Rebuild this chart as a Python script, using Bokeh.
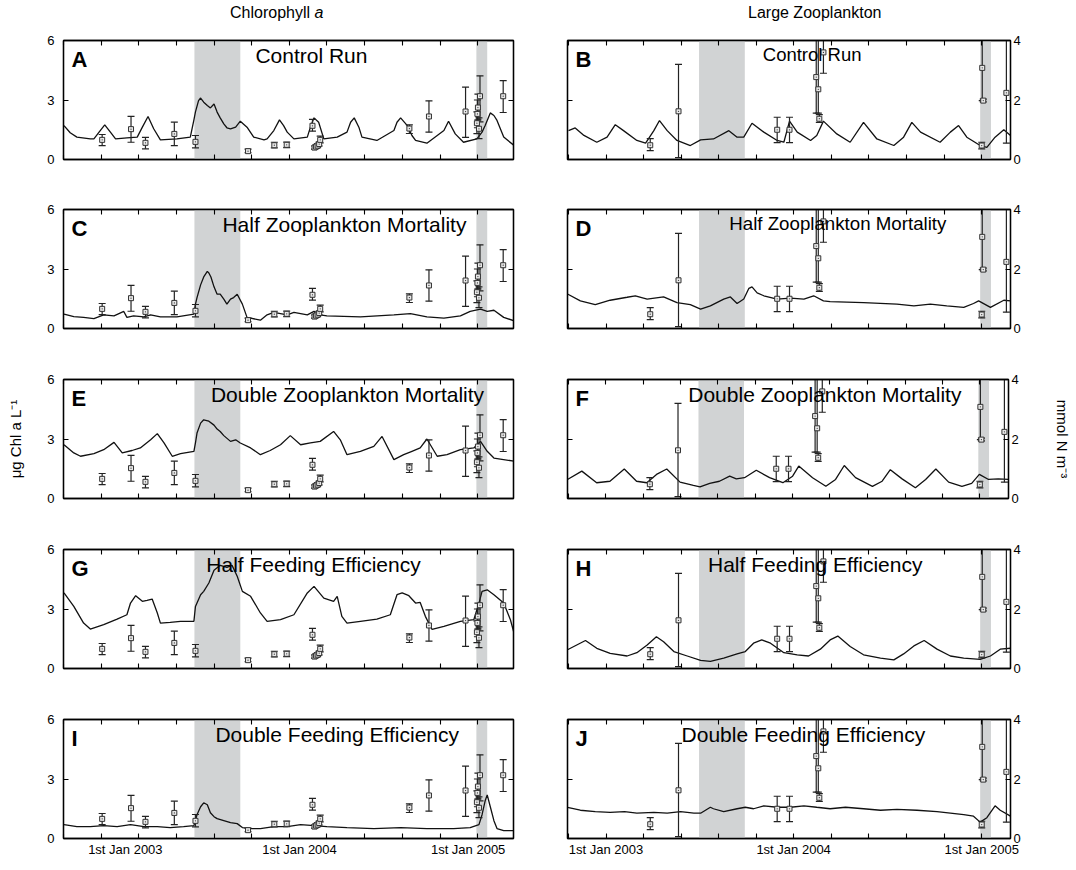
import pandas as pd
from bokeh.plotting import figure
from bokeh.layouts import column, row
from bokeh.models import Range1d, LinearAxis, FixedTicker, BoxAnnotation, Label, Div
from bokeh.embed import file_html
from bokeh.resources import INLINE

# ---------------- data (time = days since 1 Jan 2003) ----------------
x_tick_labels = ["1st Jan 2003", "1st Jan 2004", "1st Jan 2005"]
chl_label_days = [47, 385, 712]          # where the left column prints its date labels
zoo_label_days = [0, 365, 731]

shade_start = [181, 728]
shade_end = [270, 749]

chl_obs_days = [2, 58, 86, 142, 183, 285, 336, 360, 410, 414, 417, 420, 423, 425, 598, 636, 707, 729, 730, 731, 733, 735, 780]
chl_obs_mean = [0.99, 1.53, 0.84, 1.29, 0.89, 0.42, 0.72, 0.74, 1.70, 0.60, 0.65, 0.70, 0.78, 0.99, 1.56, 2.17, 2.42, 1.83, 2.30, 2.62, 1.55, 3.19, 3.19]
chl_obs_low = [0.70, 0.87, 0.54, 0.70, 0.59, 0.34, 0.59, 0.60, 1.43, 0.52, 0.56, 0.60, 0.68, 0.84, 1.31, 1.38, 1.12, 1.30, 1.60, 2.00, 1.05, 1.90, 2.37]
chl_obs_high = [1.26, 2.17, 1.12, 1.88, 1.21, 0.52, 0.87, 0.88, 2.02, 0.68, 0.74, 0.80, 0.88, 1.18, 1.75, 2.96, 3.65, 2.40, 3.00, 3.30, 2.10, 4.22, 3.98]

zoo_obs_days = [86, 141, 333, 357, 409, 413, 415, 423, 731, 732, 734, 779]
zoo_obs_mean = [0.48, 1.62, 1.00, 1.00, 2.77, 2.36, 1.37, 3.60, 0.47, 3.08, 1.98, 2.24]
zoo_obs_low = [0.30, 0.06, 0.57, 0.57, 1.56, 1.56, 1.25, 2.90, 0.36, 1.98, 1.94, 0.55]
zoo_obs_high = [0.70, 3.20, 1.42, 1.42, 4.60, 4.60, 1.51, 4.60, 0.58, 4.60, 2.03, 4.60]

a_days = [-72, -60, -47, -21, -14, -4, 7, 18, 28, 50, 70, 80, 91, 102, 115, 147, 173, 180, 183, 189, 193, 199, 206, 212, 219, 225, 231, 238, 244, 251, 261, 270, 283, 296, 316, 322, 335, 346, 354, 361, 374, 400, 406, 413, 422, 432, 458, 477, 484, 491, 500, 506, 535, 568, 574, 581, 594, 603, 610, 632, 665, 674, 687, 703, 729, 739, 745, 755, 762, 768, 781, 801]
a_vals = [1.71, 1.35, 1.13, 1.04, 1.04, 1.38, 1.75, 1.38, 1.04, 1.09, 1.13, 1.63, 2.17, 1.55, 0.99, 1.04, 1.13, 2.0, 2.4, 2.97, 3.1, 2.89, 2.72, 2.6, 2.8, 2.39, 2.1, 1.8, 1.6, 1.55, 1.63, 1.93, 1.63, 1.13, 0.99, 1.04, 1.46, 2.0, 1.71, 1.38, 1.04, 1.13, 1.63, 2.1, 1.88, 1.04, 1.13, 1.38, 1.88, 2.1, 1.63, 1.13, 0.96, 1.46, 1.88, 2.1, 1.71, 1.21, 0.96, 0.82, 1.46, 1.93, 1.29, 0.87, 1.04, 1.38, 1.71, 2.35, 2.22, 1.97, 1.13, 0.71]

b_days = [-73, -60, -43, -18, 2, 18, 34, 60, 77, 93, 104, 119, 138, 164, 184, 209, 239, 255, 268, 284, 307, 333, 346, 357, 372, 398, 410, 423, 449, 475, 501, 527, 560, 579, 595, 612, 650, 670, 686, 702, 728, 741, 757, 774, 787]
b_vals = [0.97, 1.06, 0.81, 0.58, 0.75, 1.17, 0.97, 0.64, 0.55, 0.97, 1.31, 0.97, 0.64, 0.47, 0.66, 0.69, 0.97, 0.75, 0.75, 1.22, 0.92, 0.64, 0.58, 1.29, 0.92, 0.64, 0.81, 1.29, 0.86, 0.58, 1.25, 0.69, 0.47, 0.75, 1.25, 0.92, 0.58, 0.92, 1.14, 0.75, 0.47, 0.41, 0.75, 1.0, 0.81]

c_days = [-72, -53, -34, -14, 5, 25, 44, 50, 63, 83, 96, 115, 147, 180, 183, 186, 193, 199, 206, 209, 213, 219, 225, 231, 238, 244, 251, 257, 264, 274, 283, 309, 322, 335, 361, 374, 400, 413, 425, 438, 503, 568, 600, 632, 665, 697, 716, 736, 749, 762, 781, 801]
c_vals = [0.72, 0.6, 0.56, 0.5, 0.69, 0.64, 0.86, 0.56, 0.64, 0.59, 0.69, 0.59, 0.59, 0.72, 1.23, 1.56, 2.2, 2.6, 2.88, 2.8, 2.6, 2.1, 1.73, 1.73, 1.48, 1.23, 1.48, 1.56, 1.73, 1.23, 0.56, 0.42, 0.69, 0.81, 0.69, 0.81, 0.69, 0.86, 0.69, 0.64, 0.59, 0.69, 0.75, 0.59, 0.52, 0.64, 0.86, 0.98, 0.86, 0.92, 0.56, 0.39]

d_days = [-75, -50, -21, 8, 41, 57, 80, 112, 138, 164, 184, 203, 229, 242, 255, 268, 278, 284, 294, 307, 333, 359, 385, 404, 423, 436, 501, 566, 599, 631, 663, 696, 715, 725, 748, 774, 787]
d_vals = [1.16, 0.93, 0.80, 0.95, 1.05, 1.10, 0.99, 1.06, 0.87, 0.80, 0.65, 0.76, 0.99, 1.06, 0.84, 0.99, 1.35, 1.40, 1.20, 1.10, 0.99, 1.02, 0.99, 1.10, 0.93, 0.90, 0.87, 0.82, 0.76, 0.82, 0.76, 0.71, 0.84, 0.93, 0.71, 0.95, 0.93]

e_days = [-72, -53, -40, -14, 5, 25, 41, 60, 76, 96, 109, 122, 138, 154, 180, 183, 186, 193, 199, 209, 219, 225, 231, 238, 251, 261, 270, 290, 309, 328, 348, 367, 387, 406, 425, 451, 464, 477, 503, 529, 545, 568, 587, 603, 619, 632, 652, 671, 697, 723, 736, 749, 762, 801]
e_vals = [2.71, 2.30, 2.13, 2.26, 2.46, 2.83, 2.30, 2.42, 2.55, 2.96, 3.27, 2.80, 2.13, 2.26, 2.38, 2.80, 3.30, 3.80, 3.97, 3.90, 3.70, 3.50, 3.38, 3.17, 2.88, 2.96, 2.80, 2.55, 2.21, 2.42, 2.71, 3.17, 2.71, 2.80, 2.88, 3.38, 2.96, 2.21, 2.38, 2.63, 3.13, 1.96, 2.21, 2.38, 2.55, 3.00, 2.13, 2.21, 2.46, 2.55, 2.88, 2.38, 2.04, 1.88]

f_days = [-75, -47, -18, 8, 36, 60, 80, 99, 119, 145, 171, 184, 203, 222, 242, 255, 271, 294, 320, 346, 365, 377, 404, 430, 449, 466, 488, 521, 540, 556, 579, 605, 625, 645, 670, 696, 715, 730, 748, 767, 787]
f_vals = [0.64, 0.92, 0.53, 0.58, 0.99, 0.58, 0.53, 0.81, 0.99, 0.55, 0.44, 0.39, 0.51, 0.58, 0.75, 0.66, 0.70, 0.95, 0.70, 0.53, 0.75, 1.09, 0.70, 0.41, 0.64, 1.11, 0.70, 0.41, 0.58, 0.97, 0.66, 0.36, 0.64, 0.99, 0.55, 0.41, 0.51, 0.81, 0.64, 0.66, 0.64]

g_days = [-72, -53, -34, -21, 5, 31, 50, 57, 67, 80, 89, 99, 109, 115, 134, 154, 180, 183, 193, 199, 209, 219, 231, 244, 254, 264, 274, 290, 309, 322, 348, 374, 400, 413, 432, 451, 458, 467, 477, 503, 535, 561, 574, 584, 597, 610, 619, 629, 642, 665, 697, 723, 733, 739, 749, 762, 781, 794, 801]
g_vals = [3.81, 3.13, 2.29, 1.99, 2.21, 2.49, 2.71, 3.30, 3.67, 3.39, 3.44, 3.50, 2.80, 2.29, 2.33, 2.38, 2.38, 3.13, 3.72, 3.89, 4.31, 4.95, 5.20, 5.10, 5.20, 4.65, 3.89, 3.64, 2.80, 2.38, 2.46, 2.71, 3.81, 4.14, 3.55, 3.39, 3.64, 2.63, 2.29, 2.38, 2.49, 2.71, 3.72, 3.81, 3.67, 3.30, 3.33, 2.63, 1.97, 2.12, 2.38, 2.46, 3.30, 3.89, 3.97, 3.72, 3.30, 2.46, 1.79]

h_days = [-75, -40, -18, 8, 41, 60, 80, 98, 112, 132, 158, 184, 203, 229, 255, 271, 287, 303, 320, 346, 372, 394, 417, 436, 451, 475, 501, 534, 560, 579, 599, 619, 644, 670, 696, 728, 748, 767, 787]
h_vals = [0.63, 0.94, 0.68, 0.51, 0.42, 0.53, 0.79, 1.07, 0.90, 0.57, 0.42, 0.27, 0.24, 0.35, 0.49, 0.57, 0.85, 0.96, 0.85, 0.53, 0.46, 0.42, 0.65, 0.96, 1.09, 0.74, 0.46, 0.35, 0.29, 0.49, 0.76, 0.94, 0.65, 0.42, 0.35, 0.31, 0.42, 0.65, 0.68]

i_days = [-72, -47, -21, 5, 31, 57, 83, 109, 134, 160, 180, 186, 193, 199, 206, 212, 219, 225, 238, 251, 264, 274, 290, 309, 335, 361, 387, 413, 438, 477, 529, 581, 632, 684, 716, 733, 739, 745, 749, 755, 762, 768, 781, 801]
i_vals = [0.7, 0.6, 0.6, 0.65, 0.6, 0.7, 0.6, 0.6, 0.55, 0.6, 0.65, 1.2, 1.6, 1.8, 1.7, 1.3, 1.1, 1.0, 0.9, 0.8, 0.75, 0.55, 0.5, 0.5, 0.6, 0.6, 0.7, 0.65, 0.6, 0.55, 0.5, 0.55, 0.5, 0.5, 0.55, 0.7, 1.2, 1.9, 2.2, 1.6, 0.9, 0.5, 0.4, 0.4]

j_days = [-75, -50, -21, 8, 36, 60, 93, 119, 145, 171, 184, 203, 209, 229, 255, 271, 287, 307, 333, 359, 385, 410, 436, 466, 501, 534, 566, 605, 644, 670, 696, 715, 728, 741, 757, 767, 787]
j_vals = [1.05, 0.95, 0.9, 0.88, 0.9, 0.85, 0.88, 0.85, 0.9, 0.85, 0.85, 1.05, 1.0, 0.9, 1.0, 1.05, 1.0, 1.1, 1.05, 1.05, 1.1, 1.05, 1.0, 1.05, 1.0, 0.95, 0.98, 0.95, 0.9, 0.85, 0.8, 0.75, 0.55, 0.7, 1.1, 0.95, 0.75]

run_titles = ["Control Run", "Half Zooplankton Mortality", "Double Zooplankton Mortality",
              "Half Feeding Efficiency", "Double Feeding Efficiency"]
letters = ["A", "B", "C", "D", "E", "F", "G", "H", "I", "J"]

# ---------------- layout / style ----------------
FONT = "Liberation Sans"
T0 = pd.Timestamp("2003-01-01")
LEFT_RANGE = (-73, 800)
RIGHT_RANGE = (-75, 787)
FRAME_H = 119
ROW_BORDERS = [(10, 25), (25, 25), (26, 25), (26, 25), (26, 22)]
SHADE = "#d1d3d4"
INK = "#111111"


def fifth_year_ticks(lo, hi):
    ticks = []
    for y in range(2002, 2006):
        start = (pd.Timestamp(f"{y}-01-01") - T0).days
        length = (pd.Timestamp(f"{y + 1}-01-01") - pd.Timestamp(f"{y}-01-01")).days
        for k in range(5):
            t = int(round(start + k * length / 5))
            if lo <= t <= hi:
                ticks.append(t)
    return ticks


def style_axis(ax, labelled):
    ax.axis_line_color = "black"
    ax.axis_line_width = 1.3
    ax.major_tick_line_color = "black"
    ax.minor_tick_line_color = "black"
    ax.major_tick_line_width = 1.1
    ax.minor_tick_line_width = 1.1
    ax.major_tick_out = 0
    ax.minor_tick_out = 0
    ax.minor_tick_in = 5
    ax.major_label_text_font = FONT
    ax.major_label_text_font_size = "13px"
    ax.major_label_text_color = "black"
    if not labelled:
        ax.major_label_standoff = 0


def make_panel(idx):
    r, c = divmod(idx, 2)
    left = c == 0
    xr = LEFT_RANGE if left else RIGHT_RANGE
    ymax = 6 if left else 4
    bt, bb = ROW_BORDERS[r]
    if left:
        w, bl, br = 521, 63, 8
    else:
        w, bl, br = 552, 46, 63
    p = figure(width=w, height=bt + FRAME_H + bb, x_range=Range1d(*xr), y_range=Range1d(0, ymax),
               output_backend="svg", toolbar_location=None,
               x_axis_location=None, y_axis_location=None,
               min_border_left=bl, min_border_right=br, min_border_top=bt, min_border_bottom=bb)
    p.grid.visible = False
    p.outline_line_color = "black"
    p.outline_line_width = 1.3
    p.background_fill_color = "white"
    p.border_fill_color = "white"

    xt = fifth_year_ticks(*xr)
    yt = [0, 3, 6] if left else [0, 2, 4]

    # y axes: labels on the left for chlorophyll, on the right for zooplankton
    lab_ax = LinearAxis(ticker=FixedTicker(ticks=yt))
    style_axis(lab_ax, True)
    lab_ax.major_tick_in = 5
    lab_ax.major_label_standoff = 9 if left else 3
    other_ax = LinearAxis(ticker=FixedTicker(ticks=[], minor_ticks=yt))
    style_axis(other_ax, False)
    if r == 2:
        lab_ax.axis_label = "μg Chl a L⁻¹" if left else "mmol N m⁻³"
        lab_ax.axis_label_text_font = FONT
        lab_ax.axis_label_text_font_size = "15px"
        lab_ax.axis_label_text_font_style = "normal"
        lab_ax.axis_label_text_color = "black"
        lab_ax.axis_label_standoff = 20 if left else 32
    p.add_layout(lab_ax, "left" if left else "right")
    p.add_layout(other_ax, "right" if left else "left")

    # x axes: inward ticks every fifth of a year, top and bottom
    top_ax = LinearAxis(ticker=FixedTicker(ticks=[], minor_ticks=xt))
    style_axis(top_ax, False)
    p.add_layout(top_ax, "above")
    if r == 4:
        label_days = chl_label_days if left else zoo_label_days
        bot_ax = LinearAxis(ticker=FixedTicker(ticks=label_days, minor_ticks=xt))
        style_axis(bot_ax, True)
        bot_ax.major_tick_in = 0
        bot_ax.major_label_standoff = 3
        bot_ax.major_label_overrides = {d: t for d, t in zip(label_days, x_tick_labels)}
    else:
        bot_ax = LinearAxis(ticker=FixedTicker(ticks=[], minor_ticks=xt))
        style_axis(bot_ax, False)
    p.add_layout(bot_ax, "below")

    for s0, s1 in zip(shade_start, shade_end):
        p.add_layout(BoxAnnotation(left=s0, right=s1, fill_color=SHADE, fill_alpha=1.0,
                                   line_alpha=0, level="underlay"))
    return p


model_days = [a_days, b_days, c_days, d_days, e_days, f_days, g_days, h_days, i_days, j_days]
model_vals = [a_vals, b_vals, c_vals, d_vals, e_vals, f_vals, g_vals, h_vals, i_vals, j_vals]
title_days = [408, 401, 472, 451, 478, 428, 412, 407, 458, 384]
title_sizes = [21, 18.5, 21, 18.7, 21, 21, 21, 21, 21, 21]

panels = []
for idx in range(10):
    r, c = divmod(idx, 2)
    left = c == 0
    p = make_panel(idx)
    p.line(model_days[idx], model_vals[idx], line_color=INK, line_width=1.3)
    if left:
        od, om, lo, hi = chl_obs_days, chl_obs_mean, chl_obs_low, chl_obs_high
    else:
        od, om, lo, hi = zoo_obs_days, zoo_obs_mean, zoo_obs_low, zoo_obs_high
    p.segment(x0=od, y0=lo, x1=od, y1=hi, line_color="#222222", line_width=1.2)
    p.scatter(od, lo, marker="dash", size=7, line_color="#222222", line_width=1.2)
    p.scatter(od, hi, marker="dash", size=7, line_color="#222222", line_width=1.2)
    p.scatter(od, om, marker="square_dot", size=5, line_color="#333333", fill_color="#e8e8e8",
              line_width=1)
    ymax = p.y_range.end
    p.add_layout(Label(x=p.x_range.start, y=ymax, x_offset=8, y_offset=-6, text=letters[idx],
                       text_font=FONT, text_font_size="22px", text_font_style="bold",
                       text_baseline="top", text_color="black"))
    p.add_layout(Label(x=title_days[idx], y=ymax, y_offset=-3, text=run_titles[r],
                       text_font=FONT, text_font_size=f"{title_sizes[idx]}px",
                       text_align="center", text_baseline="top", text_color="black"))
    panels.append(p)

head_style = "margin-top:2px; white-space:nowrap; font-family:'Liberation Sans'; font-size:16px; color:black;"
div_l = Div(text=f'<div style="{head_style} padding-left:230px;">Chlorophyll <i>a</i></div>',
            width=521, height=30, margin=(0, 0, 0, 0))
div_r = Div(text=f'<div style="{head_style} padding-left:227px;">Large Zooplankton</div>',
            width=552, height=30, margin=(0, 0, 0, 0))

layout = column(row(div_l, div_r),
                *[row(panels[2 * k], panels[2 * k + 1]) for k in range(5)])

open("out.html", "w").write(file_html(layout, INLINE))
